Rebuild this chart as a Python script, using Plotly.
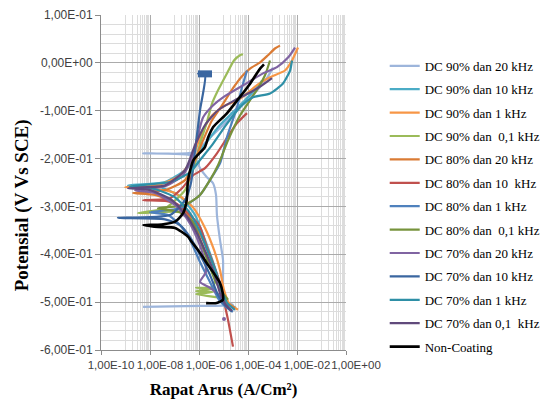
import plotly.graph_objects as go

# ---------------- data (current density A/cm2, potential V vs SCE) ----------------
names = ["DC 90% dan 20 kHz", "DC 90% dan 10 kHz", "DC 90% dan 1 kHz", "DC 90% dan  0,1 kHz",
         "DC 80% dan 20 kHz", "DC 80% dan 10  kHz", "DC 80% dan 1 kHz", "DC 80% dan  0,1 kHz",
         "DC 70% dan 20 kHz", "DC 70% dan 10 kHz", "DC 70% dan 1 kHz", "DC 70% dan 0,1  kHz",
         "Non-Coating"]
colors = ["#9DB5DB", "#4BACC6", "#F79646", "#9BBB59",
          "#DA7B35", "#C0504D", "#4F81BD", "#77933C",
          "#8064A2", "#3A66A0", "#2E8FA6", "#604A7B",
          "#000000"]

i_90_20 = [5.2e-9, 1.1e-6, 2.44e-5, 1.05e-5, 9.55e-6, 9.55e-6, 7.2e-6, 5.4e-6, 4.95e-6, 3.7e-6, 2.1e-6,
           1.1e-6, 6.25e-7, 5.2e-9, 6.25e-7, 2.8e-6, 1.26e-5, 4.7e-5, 2.33e-4, 6.55e-4, 1.05e-3]
e_90_20 = [-0.510, -0.508, -0.506, -0.498, -0.454, -0.412, -0.370, -0.318, -0.276, -0.251, -0.239,
           -0.220, -0.195, -0.189, -0.187, -0.156, -0.124, -0.089, -0.058, -0.028, -0.010]

i_90_10 = [3.24e-5, 1.53e-5, 8.7e-6, 4.1e-6, 1.76e-6, 6.9e-7, 1.67e-7, 2.56e-8, 1.26e-9,
           4.1e-8, 2.68e-7, 8.3e-7, 2.33e-6, 7.2e-6, 2.44e-5, 7.55e-5, 2.12e-4, 3.72e-4]
e_90_10 = [-0.512, -0.502, -0.475, -0.422, -0.370, -0.318, -0.279, -0.260, -0.256,
           -0.249, -0.224, -0.193, -0.162, -0.130, -0.103, -0.078, -0.053, -0.037]

i_90_1 = [3.9e-5, 1.67e-5, 1.05e-5, 7.2e-6, 4.1e-6, 1.76e-6, 5.7e-7, 1.05e-7, 1.0e-8, 9.55e-10,
          2.56e-8, 1.67e-7, 4.3e-7, 7.55e-7, 1.46e-6, 3.4e-6, 1.15e-5, 3.9e-5, 1.0e-4, 2.56e-4,
          7.9e-4, 3.24e-3, 6.25e-3, 1.1e-2]
e_90_1 = [-0.516, -0.502, -0.475, -0.433, -0.391, -0.345, -0.302, -0.272, -0.262, -0.260,
          -0.254, -0.235, -0.208, -0.179, -0.141, -0.110, -0.089, -0.078, -0.062, -0.045,
          -0.030, -0.016, 0.005, 0.032]

i_90_01 = [8.7e-6, 7.55e-7, 3.7e-6, 7.55e-7, 3.7e-6, 7.55e-7, 3.7e-6, 4.5e-6, 2.33e-6, 1.1e-6, 5.2e-7,
           1.67e-7, 2.56e-8, 3.2e-9, 4.1e-8, 2.68e-7, 5.7e-7, 8.3e-7, 1.21e-6, 2.1e-6, 3.4e-6, 5.4e-6,
           1.39e-5, 2.68e-5, 4.7e-5, 6.25e-5]
e_90_01 = [-0.491, -0.483, -0.479, -0.477, -0.472, -0.470, -0.468, -0.454, -0.412, -0.370, -0.333,
           -0.312, -0.312, -0.314, -0.304, -0.266, -0.224, -0.193, -0.162, -0.124, -0.085, -0.062,
           -0.022, 0.005, 0.016, 0.018]

i_80_20 = [2.94e-5, 1.26e-5, 7.2e-6, 3.4e-6, 1.46e-6, 5.2e-7, 1.05e-7, 1.6e-8, 2.0e-9,
           4.1e-8, 2.68e-7, 6.9e-7, 1.46e-6, 3.4e-6, 8.7e-6, 2.44e-5, 5.7e-5, 1.21e-4, 3.1e-4,
           6.55e-4, 1.26e-3, 2.02e-3]
e_80_20 = [-0.512, -0.500, -0.464, -0.416, -0.370, -0.329, -0.293, -0.276, -0.272,
           -0.266, -0.245, -0.203, -0.162, -0.120, -0.089, -0.053, -0.028, -0.012, 0.001,
           0.016, 0.030, 0.036]

i_80_10 = [2.44e-5, 1.53e-5, 9.55e-6, 7.2e-6, 3.7e-6, 2.1e-6, 1.1e-6, 4.3e-7, 1.26e-7, 4.9e-8, 5.2e-9,
           6.5e-8, 2.02e-7, 5.7e-7, 1.76e-6, 5.4e-6, 1.84e-5, 3.56e-5, 9.1e-5]
e_80_10 = [-0.593, -0.537, -0.489, -0.460, -0.418, -0.385, -0.343, -0.318, -0.295, -0.289, -0.287,
           -0.283, -0.262, -0.235, -0.220, -0.189, -0.147, -0.126, -0.105]

i_80_1 = [2.44e-5, 1.26e-5, 6.55e-6, 2.8e-6, 1.1e-6, 4.3e-7, 1.67e-7, 5.4e-8, 1.0e-8,
          1.67e-7, 1.1e-6, 2.8e-6, 7.2e-6, 1.39e-5, 3.56e-5, 5.7e-5, 9.1e-5]
e_80_1 = [-0.520, -0.510, -0.495, -0.458, -0.416, -0.370, -0.339, -0.318, -0.312,
          -0.304, -0.276, -0.245, -0.210, -0.155, -0.093, -0.051, -0.016]

i_80_01 = [1.53e-5, 8.7e-6, 4.5e-6, 2.33e-6, 1.1e-6, 5.7e-7, 1.67e-7, 2.1e-8,
           2.68e-7, 1.1e-6, 2.8e-6, 5.97e-6, 1.53e-5, 4.7e-5, 1.21e-4, 2.56e-4, 4.94e-4, 7.9e-4]
e_80_01 = [-0.495, -0.479, -0.454, -0.416, -0.370, -0.333, -0.312, -0.304,
           -0.297, -0.276, -0.245, -0.214, -0.162, -0.110, -0.078, -0.053, -0.026, 0.005]

i_70_20 = [1.26e-5, 7.2e-6, 2.8e-6, 1.1e-6, 1.46e-6, 1.93e-6, 1.6e-6, 8.3e-7, 3.56e-7, 1.05e-7, 1.6e-8,
           2.45e-9, 4.1e-8, 2.22e-7, 5.7e-7, 9.1e-7, 1.46e-6, 3.7e-6, 9.55e-6, 6.25e-5, 4.1e-4,
           1.53e-3, 4.3e-3, 8.3e-3]
e_70_20 = [-0.508, -0.487, -0.470, -0.458, -0.447, -0.437, -0.408, -0.366, -0.329, -0.297, -0.272,
           -0.266, -0.258, -0.235, -0.193, -0.151, -0.114, -0.089, -0.072, -0.047, -0.022,
           -0.009, 0.011, 0.032]
i_70_20_pt = [1.05e-5]
e_70_20_pt = [-0.535]

i_70_10 = [2.22e-5, 1.15e-5, 5.97e-6, 2.8e-6, 1.1e-6, 4.3e-7, 1.67e-7, 4.1e-8, 4.9e-10,
           6.5e-8, 2.68e-7, 4.7e-7, 6.9e-7, 1.1e-6, 1.76e-6, 9.1e-7, 3.4e-6]
e_70_10 = [-0.520, -0.506, -0.485, -0.443, -0.401, -0.364, -0.339, -0.327, -0.324,
           -0.318, -0.287, -0.251, -0.183, -0.099, -0.024, -0.022, -0.022]
i_70_10_end = [9.1e-7, 3.4e-6]
e_70_10_end = [-0.023, -0.023]

i_70_1 = [2.94e-5, 1.53e-5, 8.7e-6, 4.95e-6, 2.33e-6, 1.1e-6, 4.3e-7, 1.05e-7, 1.6e-8, 1.53e-9,
          6.5e-8, 4.3e-7, 1.1e-6, 3.4e-6, 1.26e-5, 4.7e-5, 1.6e-4, 7.9e-4, 2.68e-3, 5.2e-3, 6.25e-3]
e_70_1 = [-0.516, -0.504, -0.479, -0.437, -0.395, -0.353, -0.314, -0.281, -0.264, -0.258,
          -0.249, -0.229, -0.203, -0.172, -0.130, -0.093, -0.072, -0.064, -0.043, -0.016, 0.005]

i_70_01 = [2.22e-5, 1.26e-5, 7.2e-6, 4.1e-6, 1.93e-6, 9.1e-7, 3.56e-7, 7.9e-8, 1.0e-8, 1.26e-9,
           4.1e-8, 2.68e-7, 6.9e-7, 1.76e-6, 5.97e-6, 2.94e-5, 1.21e-4, 3.72e-4, 9.55e-4]
e_70_01 = [-0.518, -0.506, -0.481, -0.439, -0.397, -0.360, -0.324, -0.287, -0.266, -0.262,
           -0.256, -0.224, -0.172, -0.130, -0.099, -0.078, -0.062, -0.047, -0.032]

i_nc = [1.95e-6, 5.25e-6, 9.55e-6, 9.3e-6, 7.2e-6, 4.5e-6, 2.05e-6, 9.1e-7, 5.0e-7, 3.55e-7, 1.05e-7,
        2.1e-8, 5.4e-9, 3.0e-8, 1.05e-7, 2.25e-7, 3.15e-7, 3.55e-7, 5.9e-7, 1.75e-6, 2.4e-6, 3.8e-6,
        1.35e-5, 4.7e-5, 1.2e-4, 3.1e-4, 4.5e-4]
e_nc = [-0.502, -0.502, -0.495, -0.481, -0.460, -0.443, -0.418, -0.391, -0.374, -0.363, -0.345,
        -0.343, -0.339, -0.338, -0.332, -0.314, -0.287, -0.245, -0.203, -0.176, -0.155, -0.134,
        -0.106, -0.071, -0.044, -0.012, -0.003]

currents = [i_90_20, i_90_10, i_90_1, i_90_01, i_80_20, i_80_10, i_80_1, i_80_01,
            i_70_20, i_70_10, i_70_1, i_70_01, i_nc]
potentials = [e_90_20, e_90_10, e_90_1, e_90_01, e_80_20, e_80_10, e_80_1, e_80_01,
              e_70_20, e_70_10, e_70_1, e_70_01, e_nc]

x_tick_vals = [1e-10, 1e-8, 1e-6, 1e-4, 1e-2, 1e0]
x_tick_text = ["1,00E-10", "1,00E-08", "1,00E-06", "1,00E-04", "1,00E-02", "1,00E+00"]
y_tick_vals = [-0.6, -0.5, -0.4, -0.3, -0.2, -0.1, 0.0, 0.1]
y_tick_text = ["-6,00E-01", "-5,00E-01", "-4,00E-01", "-3,00E-01", "-2,00E-01", "-1,00E-01",
               "0,00E+00", "1,00E-01"]
x_title = "Rapat Arus (A/Cm²)"
y_title = "Potensial (V Vs SCE)"

# minor vertical grid (Excel log base 100: k x 10^odd decade)
x_minor = [k * 10.0 ** e for e in (-9, -7, -5, -3, -1) for k in range(1, 10)]
y_minor = [round(-0.6 + 0.02 * j, 2) for j in range(36)]

fig = go.Figure()
for idx, (nm, col, xs, ys) in enumerate(zip(names, colors, currents, potentials)):
    fig.add_trace(go.Scatter(x=xs, y=ys, mode="lines", name=nm, legendgroup=nm,
                             line=dict(color=col, width=2.6 if nm == "Non-Coating" else 2.2,
                                       shape="spline", smoothing=0.6)))
    if nm == "DC 70% dan 20 kHz":
        fig.add_trace(go.Scatter(x=i_70_20_pt, y=e_70_20_pt, mode="markers", showlegend=False,
                                 legendgroup=nm, marker=dict(color=col, size=4)))
    if nm == "DC 70% dan 10 kHz":
        fig.add_trace(go.Scatter(x=i_70_10_end, y=e_70_10_end, mode="lines", showlegend=False,
                                 legendgroup=nm, line=dict(color=col, width=7)))

grid_major = "#ABABAB"
grid_minor = "#DCDCDC"
fig.update_layout(
    width=545, height=395,
    margin=dict(l=93, r=207, t=6.5, b=53, autoexpand=False),
    paper_bgcolor="white", plot_bgcolor="white",
    showlegend=True,
    legend=dict(x=1.158, y=0.893, xanchor="left", yanchor="top",
                font=dict(family="Liberation Serif", size=13, color="#000000"),
                tracegroupgap=3.5, traceorder="grouped", bgcolor="rgba(0,0,0,0)"),
    xaxis=dict(type="log", range=[-10, 0], tickmode="array", tickvals=x_tick_vals,
               ticktext=x_tick_text, tickangle=0, automargin=False, ticklabelshift=10,
               tickfont=dict(family="Liberation Sans", size=11.5, color="#404040"),
               showgrid=True, gridcolor=grid_major, gridwidth=1,
               showline=True, linecolor="#8C8C8C", linewidth=1,
               ticks="outside", ticklen=4, tickcolor="#8C8C8C",
               minor=dict(tickmode="array", tickvals=x_minor, showgrid=True,
                          gridcolor=grid_minor, gridwidth=1, ticks=""),
               zeroline=False,
               title=dict(text="<b>" + x_title + "</b>", standoff=13,
                          font=dict(family="Liberation Serif", size=17, color="#000000"))),
    yaxis=dict(range=[-0.6, 0.1], tickmode="array", tickvals=y_tick_vals, ticktext=y_tick_text,
               automargin=False,
               tickfont=dict(family="Liberation Sans", size=12, color="#404040"),
               showgrid=True, gridcolor=grid_major, gridwidth=1,
               showline=True, linecolor="#8C8C8C", linewidth=1,
               ticks="outside", ticklen=5, tickcolor="#8C8C8C",
               minor=dict(tickmode="array", tickvals=y_minor, showgrid=True,
                          gridcolor=grid_minor, gridwidth=1, ticks=""),
               zeroline=False),
    annotations=[dict(text="<b>" + y_title + "</b>", textangle=-90, showarrow=False,
                      xref="paper", yref="paper", x=-0.3224, y=0.432,
                      xanchor="center", yanchor="middle",
                      font=dict(family="Liberation Serif", size=19, color="#000000"))],
)

fig.write_html("out.html")
